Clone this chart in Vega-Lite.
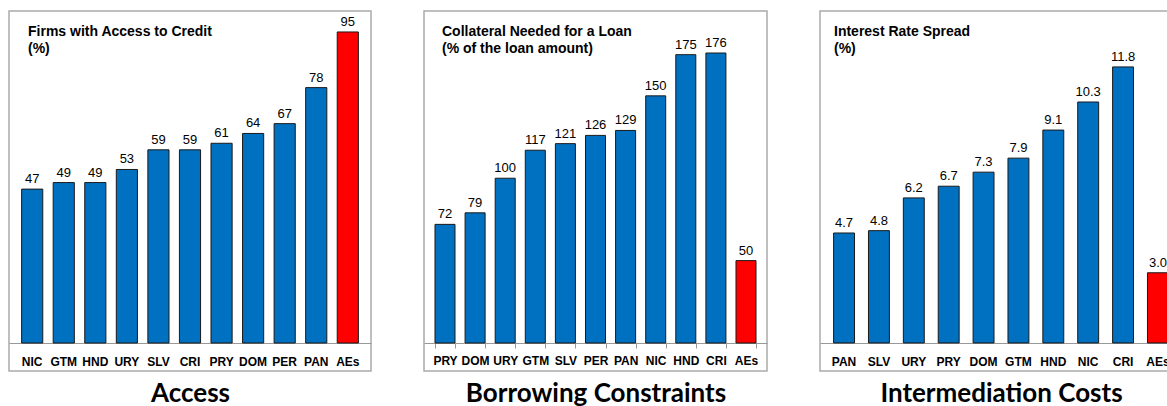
{
  "$schema": "https://vega.github.io/schema/vega-lite/v6.json",
  "padding": {"left": 8, "top": 10, "right": 0, "bottom": 0},
  "spacing": 51,
  "datasets": {
    "access": [
      {"country": "NIC", "value": 47, "group": "LAC"},
      {"country": "GTM", "value": 49, "group": "LAC"},
      {"country": "HND", "value": 49, "group": "LAC"},
      {"country": "URY", "value": 53, "group": "LAC"},
      {"country": "SLV", "value": 59, "group": "LAC"},
      {"country": "CRI", "value": 59, "group": "LAC"},
      {"country": "PRY", "value": 61, "group": "LAC"},
      {"country": "DOM", "value": 64, "group": "LAC"},
      {"country": "PER", "value": 67, "group": "LAC"},
      {"country": "PAN", "value": 78, "group": "LAC"},
      {"country": "AEs", "value": 95, "group": "AEs"}
    ],
    "collateral": [
      {"country": "PRY", "value": 72, "group": "LAC"},
      {"country": "DOM", "value": 79, "group": "LAC"},
      {"country": "URY", "value": 100, "group": "LAC"},
      {"country": "GTM", "value": 117, "group": "LAC"},
      {"country": "SLV", "value": 121, "group": "LAC"},
      {"country": "PER", "value": 126, "group": "LAC"},
      {"country": "PAN", "value": 129, "group": "LAC"},
      {"country": "NIC", "value": 150, "group": "LAC"},
      {"country": "HND", "value": 175, "group": "LAC"},
      {"country": "CRI", "value": 176, "group": "LAC"},
      {"country": "AEs", "value": 50, "group": "AEs"}
    ],
    "spread": [
      {"country": "PAN", "value": 4.7, "group": "LAC"},
      {"country": "SLV", "value": 4.8, "group": "LAC"},
      {"country": "URY", "value": 6.2, "group": "LAC"},
      {"country": "PRY", "value": 6.7, "group": "LAC"},
      {"country": "DOM", "value": 7.3, "group": "LAC"},
      {"country": "GTM", "value": 7.9, "group": "LAC"},
      {"country": "HND", "value": 9.1, "group": "LAC"},
      {"country": "NIC", "value": 10.3, "group": "LAC"},
      {"country": "CRI", "value": 11.8, "group": "LAC"},
      {"country": "AEs", "value": 3.0, "group": "AEs"}
    ]
  },
  "config": {
    "view": {"stroke": "#ABABAB", "strokeWidth": 1.5},
    "font": "Liberation Sans",
    "title": {"font": "Liberation Sans", "fontSize": 14, "fontWeight": "bold", "color": "#000000", "anchor": "start", "frame": "group", "baseline": "top", "offset": -17, "dy": 28, "lineHeight": 17},
    "axisX": {"labelAngle": 0, "labelFont": "Liberation Sans", "labelFontWeight": "bold", "labelFontSize": 12, "labelColor": "#000000", "labelPadding": 13, "labelOverlap": false, "domainColor": "#999999", "domainWidth": 1, "titleFont": "Lato", "titleFontSize": 26, "titleFontWeight": "bold", "titleColor": "#000000", "titlePadding": 13, "offset": -28}
  },
  "hconcat": [
    {
      "width": 362, "height": 360,
      "title": {"text": ["Firms with Access to Credit", "(%)"], "dx": 19},
      "data": {"name": "access"},
      "encoding": {
        "x": {"field": "country", "type": "nominal", "sort": null, "scale": {"paddingInner": 0.33, "paddingOuter": 0.4}, "axis": {"title": "Access", "ticks": false}},
        "y": {"field": "value", "type": "quantitative", "scale": {"domain": [-8.55, 101.4], "nice": false, "zero": false}, "axis": null}
      },
      "layer": [
        {"mark": {"type": "bar", "stroke": "#1a1a1a", "strokeWidth": 1}, "encoding": {"y2": {"datum": 0}, "color": {"field": "group", "type": "nominal", "scale": {"domain": ["LAC", "AEs"], "range": ["#0070C0", "#FF0000"]}, "legend": null}}},
        {"mark": {"type": "text", "baseline": "alphabetic", "dy": -6, "fontSize": 13, "font": "Liberation Sans"}, "encoding": {"text": {"field": "value", "type": "quantitative", "format": ".0f"}}}
      ]
    },
    {
      "width": 343, "height": 360,
      "title": {"text": ["Collateral Needed for a Loan", "(% of the loan amount)"], "dx": 18},
      "data": {"name": "collateral"},
      "encoding": {
        "x": {"field": "country", "type": "nominal", "sort": null, "scale": {"paddingInner": 0.335, "paddingOuter": 0.365}, "axis": {"title": "Borrowing  Constraints", "ticks": true, "tickBand": "extent", "tickSize": 5, "tickColor": "#999999", "labelPadding": 7, "titlePadding": 14}},
        "y": {"field": "value", "type": "quantitative", "scale": {"domain": [-17, 201.5], "nice": false, "zero": false}, "axis": null}
      },
      "layer": [
        {"mark": {"type": "bar", "stroke": "#1a1a1a", "strokeWidth": 1}, "encoding": {"y2": {"datum": 0}, "color": {"field": "group", "type": "nominal", "scale": {"domain": ["LAC", "AEs"], "range": ["#0070C0", "#FF0000"]}, "legend": null}}},
        {"mark": {"type": "text", "baseline": "alphabetic", "dy": -6, "fontSize": 13, "font": "Liberation Sans"}, "encoding": {"text": {"field": "value", "type": "quantitative", "format": ".0f"}}}
      ]
    },
    {
      "width": 362, "height": 360,
      "title": {"text": ["Interest Rate Spread", "(%)"], "dx": 14},
      "data": {"name": "spread"},
      "encoding": {
        "x": {"field": "country", "type": "nominal", "sort": null, "scale": {"paddingInner": 0.4, "paddingOuter": 0.39}, "axis": {"title": "Intermediation Costs", "ticks": false}},
        "y": {"field": "value", "type": "quantitative", "scale": {"domain": [-1.2, 14.19], "nice": false, "zero": false}, "axis": null}
      },
      "layer": [
        {"mark": {"type": "bar", "stroke": "#1a1a1a", "strokeWidth": 1}, "encoding": {"y2": {"datum": 0}, "color": {"field": "group", "type": "nominal", "scale": {"domain": ["LAC", "AEs"], "range": ["#0070C0", "#FF0000"]}, "legend": null}}},
        {"mark": {"type": "text", "baseline": "alphabetic", "dy": -6, "fontSize": 13, "font": "Liberation Sans"}, "encoding": {"text": {"field": "value", "type": "quantitative", "format": ".1f"}}}
      ]
    }
  ]
}
